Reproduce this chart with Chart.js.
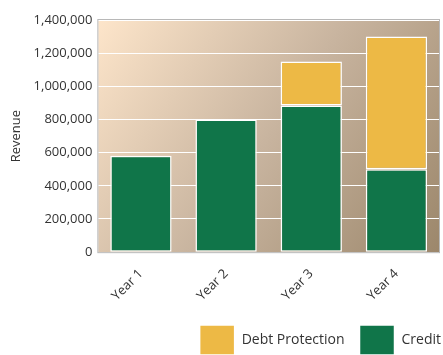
<!DOCTYPE html>
<html>
<head>
<meta charset="utf-8">
<script src="https://cdn.jsdelivr.net/npm/chart.js@4"></script>
<style>
  html, body { margin: 0; padding: 0; background: #fff; }
  #wrap { width: 443px; height: 355px; }
</style>
</head>
<body>
<div id="wrap"><canvas id="revenueChart"></canvas></div>
<script>
const years = ['Year 1', 'Year 2', 'Year 3', 'Year 4'];
const credit = [582000, 800000, 885000, 500000];
const debtProtection = [0, 0, 265000, 800000];
const yTicks = [0, 200000, 400000, 600000, 800000, 1000000, 1200000, 1400000];

// warm gradient behind the plot area + grey frame
const plotBackground = {
    id: 'plotBackground',
    afterUpdate(chart) {
        // push the legend closer to the right edge like the original
        if (chart.legend) {
            chart.legend.left += 17;
            chart.legend.right += 17;
        }
    },
    beforeDraw(chart) {
        const { ctx, chartArea: a } = chart;
        const g = ctx.createLinearGradient(a.left, a.top, a.right, a.bottom);
        g.addColorStop(0, '#fde5ca');
        g.addColorStop(0.5, '#c8b49f');
        g.addColorStop(1, '#9c876b');
        ctx.save();
        ctx.fillStyle = g;
        ctx.fillRect(a.left, a.top, a.right - a.left, a.bottom - a.top);
        ctx.restore();
    },
    afterDraw(chart) {
        const { ctx, chartArea: a } = chart;
        ctx.save();
        ctx.strokeStyle = '#b8b8b8';
        ctx.lineWidth = 1;
        ctx.strokeRect(a.left - 0.5, a.top - 0.5, a.right - a.left + 1, a.bottom - a.top + 1);
        ctx.restore();
    }
};

Chart.defaults.font.family = '"Open Sans", "Noto Sans", sans-serif';
Chart.defaults.font.size = 13;
Chart.defaults.color = '#333';

new Chart(document.getElementById('revenueChart').getContext('2d'), {
    type: 'bar',
    data: {
        labels: years,
        datasets: [
            {
                label: 'Credit',
                data: credit,
                backgroundColor: '#107549',
                borderColor: '#ffffff',
                borderWidth: 1.5,
                borderSkipped: false
            },
            {
                label: 'Debt Protection',
                data: debtProtection,
                backgroundColor: '#edb945',
                borderColor: '#ffffff',
                borderWidth: 1.5,
                borderSkipped: false
            }
        ]
    },
    options: {
        responsive: true,
        maintainAspectRatio: false,
        animation: false,
        layout: { padding: { top: 20, right: 4, left: 4, bottom: -10 } },
        plugins: {
            tooltip: { enabled: false },
            legend: {
                position: 'bottom',
                align: 'end',
                reverse: true,
                labels: {
                    boxWidth: 35,
                    boxHeight: 30,
                    padding: 15,
                    color: '#333',
                    font: { size: 14 }
                }
            }
        },
        scales: {
            x: {
                stacked: true,
                barPercentage: 0.62,
                categoryPercentage: 1,
                grid: { display: false },
                border: { display: false },
                ticks: { minRotation: 45, maxRotation: 45, padding: 6 }
            },
            y: {
                stacked: true,
                min: 0,
                max: 1400000,
                afterBuildTicks(axis) {
                    axis.ticks = yTicks.map(v => ({ value: v }));
                },
                grid: { color: '#ffffff', lineWidth: 1, drawTicks: false },
                border: { display: false },
                title: { display: true, text: 'Revenue', font: { size: 13 }, padding: 4 },
                ticks: {
                    padding: 6,
                    callback: v => v.toLocaleString('en-US')
                }
            }
        }
    },
    plugins: [plotBackground]
});
</script>
</body>
</html>
